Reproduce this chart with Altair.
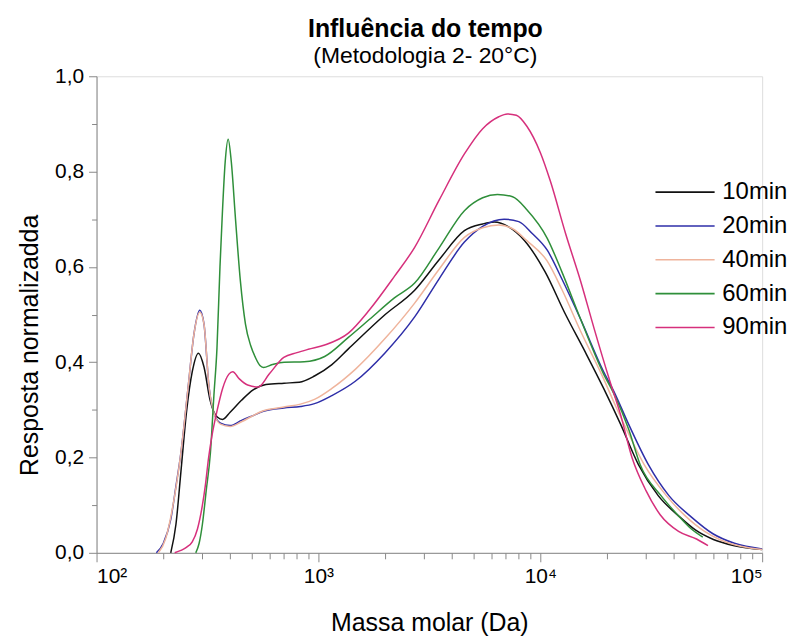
import altair as alt
import pandas as pd

# ---- data (Massa molar in Da, normalised response) ----
m_10 = [216, 228, 240, 255, 270, 288, 305, 325, 350, 370, 400, 450, 508, 580, 700, 820, 960, 1150, 1365, 2000, 2715, 3500, 4550, 5500, 6200, 7200, 8500, 10500, 13000, 16000, 19300, 23000, 27700, 34000, 42600, 50000, 60300, 75000, 100000]
v_10 = [0.0, 0.06, 0.17, 0.30, 0.38, 0.419, 0.39, 0.32, 0.285, 0.28, 0.295, 0.32, 0.342, 0.353, 0.356, 0.358, 0.371, 0.395, 0.428, 0.50, 0.551, 0.615, 0.676, 0.69, 0.694, 0.684, 0.655, 0.59, 0.50, 0.42, 0.345, 0.27, 0.185, 0.12, 0.075, 0.048, 0.028, 0.015, 0.007]

m_20 = [186, 200, 216, 228, 240, 259, 275, 292, 305, 321, 340, 362, 400, 450, 520, 565, 698, 830, 960, 1150, 1466, 2000, 2715, 3500, 4550, 5500, 6870, 8000, 9200, 10750, 12500, 15200, 19300, 21400, 25000, 30700, 38000, 48000, 60000, 75000, 100000]
v_20 = [0.0, 0.02, 0.07, 0.14, 0.21, 0.35, 0.46, 0.509, 0.48, 0.35, 0.29, 0.272, 0.267, 0.278, 0.29, 0.297, 0.304, 0.307, 0.313, 0.33, 0.36, 0.42, 0.495, 0.575, 0.652, 0.685, 0.70, 0.695, 0.67, 0.635, 0.575, 0.49, 0.38, 0.34, 0.27, 0.185, 0.12, 0.075, 0.04, 0.02, 0.008]

m_40 = [190, 205, 216, 240, 259, 275, 292, 305, 321, 340, 362, 400, 450, 565, 698, 830, 960, 1150, 1466, 2000, 2715, 3500, 4550, 5500, 6500, 7500, 8700, 10750, 12500, 15200, 19300, 22000, 25000, 29400, 37000, 44900, 55000, 65000, 80000, 100000]
v_40 = [0.0, 0.03, 0.075, 0.21, 0.35, 0.46, 0.505, 0.48, 0.35, 0.29, 0.27, 0.265, 0.275, 0.298, 0.306, 0.312, 0.322, 0.345, 0.385, 0.45, 0.524, 0.595, 0.662, 0.682, 0.688, 0.68, 0.655, 0.612, 0.553, 0.465, 0.365, 0.305, 0.25, 0.185, 0.12, 0.078, 0.045, 0.027, 0.014, 0.007]

m_60 = [280, 290, 300, 312, 326, 338, 349, 360, 368, 380, 392, 405, 423, 445, 469, 495, 520, 545, 565, 620, 700, 863, 1067, 1365, 1700, 2200, 2715, 3500, 4550, 5500, 6410, 7500, 8700, 10750, 12500, 15200, 19300, 21400, 25000, 28200, 35000, 41900, 48000, 54000]
v_60 = [0.0, 0.02, 0.06, 0.13, 0.21, 0.33, 0.43, 0.60, 0.70, 0.82, 0.868, 0.82, 0.70, 0.57, 0.48, 0.435, 0.41, 0.393, 0.389, 0.395, 0.40, 0.401, 0.412, 0.452, 0.49, 0.535, 0.566, 0.64, 0.718, 0.745, 0.752, 0.747, 0.72, 0.66, 0.59, 0.49, 0.375, 0.335, 0.26, 0.185, 0.12, 0.078, 0.05, 0.033]

m_90 = [225, 240, 255, 270, 285, 300, 309, 320, 331, 350, 370, 395, 411, 440, 480, 536, 600, 698, 800, 900, 1067, 1365, 1700, 2200, 2715, 3500, 4550, 5500, 6500, 7100, 7800, 8700, 10000, 11100, 13000, 15200, 17500, 20600, 23000, 25900, 30000, 34700, 42000, 50600, 57000]
v_90 = [0.0, 0.005, 0.012, 0.023, 0.05, 0.10, 0.14, 0.20, 0.245, 0.30, 0.345, 0.375, 0.38, 0.365, 0.352, 0.348, 0.375, 0.41, 0.42, 0.427, 0.436, 0.461, 0.51, 0.58, 0.641, 0.74, 0.837, 0.89, 0.915, 0.921, 0.918, 0.895, 0.84, 0.78, 0.67, 0.57, 0.47, 0.36, 0.29, 0.20, 0.13, 0.08, 0.045, 0.029, 0.015]

series_names = ["10min", "20min", "40min", "60min", "90min"]
series_colors = ["#111111", "#2e2ea8", "#efb49c", "#2f8f3a", "#d6307c"]

x_major = [100, 1000, 10000, 100000]
x_ticks = [100, 200, 300, 400, 500, 600, 700, 800, 900,
           1000, 2000, 3000, 4000, 5000, 6000, 7000, 8000, 9000,
           10000, 20000, 30000, 40000, 50000, 60000, 70000, 80000, 90000, 100000]
x_labels = ["10²", "10³", "10⁴", "10⁵"]
y_ticks = [0.0, 0.1, 0.2, 0.3, 0.4, 0.5, 0.6, 0.7, 0.8, 0.9, 1.0]

rows = []
for name, ms, vs in zip(series_names, [m_10, m_20, m_40, m_60, m_90], [v_10, v_20, v_40, v_60, v_90]):
    for m, v in zip(ms, vs):
        rows.append({"Tempo": name, "M": m, "R": v})
df = pd.DataFrame(rows)

FONT = "Liberation Sans"

x_label_expr = " : ".join(
    f"datum.value == {v} ? '{t}'" for v, t in zip(x_major, x_labels)
) + " : ''"
x_major_test = " || ".join(f"datum.value == {v}" for v in x_major)

chart = alt.Chart(df).mark_line(strokeWidth=1.5, interpolate="monotone").encode(
    x=alt.X("M:Q",
            scale=alt.Scale(type="log", domain=[100, 100000], nice=False),
            axis=alt.Axis(values=x_ticks, labelExpr=x_label_expr,
                          title="Massa molar (Da)",
                          ticks=True,
                          tickSize={"condition": {"test": x_major_test, "value": 9}, "value": 6},
                          labelFontSize=21, labelPadding=4, titlePadding=24,
                          titleFontSize=25, titleFontWeight="normal",
                          grid=False)),
    y=alt.Y("R:Q",
            scale=alt.Scale(domain=[0, 1], nice=False),
            axis=alt.Axis(values=y_ticks,
                          labelExpr="round(datum.value*10) % 2 == 0 ? replace(format(datum.value, '.1f'), '.', ',') : ''",
                          title="Resposta normalizadda",
                          ticks=True,
                          tickSize={"condition": {"test": "round(datum.value*10) % 2 == 0", "value": 8}, "value": 5},
                          labelFontSize=21, labelPadding=5, titlePadding=12,
                          titleFontSize=25, titleFontWeight="normal",
                          titleY=270,
                          grid=False)),
    color=alt.Color("Tempo:N",
                    scale=alt.Scale(domain=series_names, range=series_colors),
                    legend=alt.Legend(title=None, orient="none", legendX=570, legendY=95,
                                      symbolType="M-1.45,0H1.45", symbolSize=1681,
                                      symbolStrokeWidth=1.6, symbolFillColor="transparent",
                                      labelFontSize=24, labelFont=FONT, rowPadding=-1,
                                      padding=0, labelOffset=16)),
).properties(
    width=669,
    height=479,
    title=alt.TitleParams(text="Influência do tempo", subtitle="(Metodologia 2- 20°C)",
                          fontSize=25, fontWeight="bold", subtitleFontSize=23,
                          subtitleColor="#000000", color="#000000",
                          font=FONT, subtitleFont=FONT, anchor="middle", frame="group",
                          offset=-3, subtitlePadding=3, dx=-4),
    autosize=alt.AutoSizeParams(type="none"),
    padding={"left": 89, "top": 67, "right": 30, "bottom": 82},
).configure_view(
    stroke="transparent"
).configure_axis(
    domainColor="#000000", domainWidth=1.4, tickColor="#000000", tickWidth=1.4,
    labelColor="#000000", titleColor="#000000", labelFont=FONT, titleFont=FONT
).configure(background="#ffffff")

chart.save("out.html", embed_options={"renderer": "svg", "actions": False})
